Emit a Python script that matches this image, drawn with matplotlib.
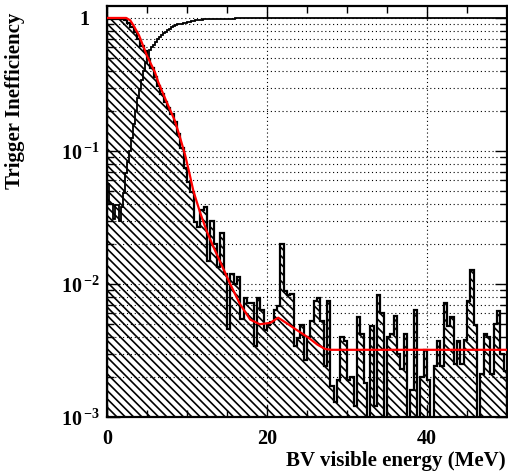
import matplotlib
matplotlib.use("Agg")
import matplotlib.pyplot as plt
import numpy as np
from matplotlib.ticker import FuncFormatter, LogLocator, MultipleLocator

# trigger inefficiency histogram, 120 bins over 0-50 MeV
ineff_range = (0.0, 50.0)
ineff = [
    0.978, 0.978, 0.978, 0.978, 0.978, 0.96, 0.92, 0.86, 0.78, 0.70,
    0.62, 0.56, 0.49, 0.42, 0.36, 0.31, 0.27, 0.235, 0.21, 0.19,
    0.165, 0.135, 0.105, 0.075, 0.058, 0.049, 0.029, 0.027, 0.036, 0.038,
    0.015, 0.030, 0.020, 0.0135, 0.0243, 0.0118, 0.0046, 0.0118, 0.0100, 0.0112,
    0.0055, 0.0079, 0.0072, 0.0072, 0.0034, 0.0079, 0.0064, 0.0045, 0.0049, 0.0052,
    0.0064, 0.0068, 0.020, 0.0088, 0.0082, 0.0084, 0.0034, 0.0039, 0.0049, 0.0027,
    0.0040, 0.0053, 0.0074, 0.0079, 0.0053, 0.0024, 0.0074, 0.0017, 0.0013, 0.0019,
    0.0040, 0.0037, 0.0019, 0.0020, 0.0012, 0.0056, 0.0042, 0.0018, 0.0, 0.0048,
    0.0012, 0.0082, 0.0061, 0.0, 0.0040, 0.0042, 0.0057, 0.0030, 0.0023, 0.0042,
    0.0, 0.0016, 0.0064, 0.0, 0.0020, 0.0032, 0.0019, 0.0, 0.0024, 0.0037,
    0.0024, 0.0072, 0.0048, 0.0056, 0.0025, 0.0037, 0.0025, 0.0038, 0.0074, 0.0128,
    0.0049, 0.0, 0.0021, 0.0042, 0.0040, 0.0021, 0.0050, 0.0063, 0.0030, 0.0022,
]

# efficiency curve (step line)
eff_fine_width = 0.25
eff_coarse_edges = [10, 10.5, 11, 11.5, 12, 13, 14, 15, 16, 50]
eff = [
    0.056, 0.040, 0.040, 0.031, 0.039, 0.039, 0.030, 0.038, 0.048, 0.068,
    0.082, 0.10, 0.125, 0.16, 0.20, 0.25, 0.29, 0.34, 0.40, 0.46,
    0.51, 0.57, 0.61, 0.63, 0.66, 0.70, 0.72, 0.75, 0.77, 0.79,
    0.81, 0.83, 0.86, 0.87, 0.885, 0.895, 0.90, 0.905, 0.91, 0.92,
    0.935, 0.955, 0.965, 0.97, 0.975, 0.98, 0.985, 0.99, 0.995,
]

# fitted curve
fit_x = [0, 2.4, 2.9, 3.3, 4.0, 4.5, 5.0, 5.5, 6.0, 6.4, 7.5, 8.5, 9.1, 9.75,
         10.3, 10.8, 11.6, 12.46, 13.3, 14.1, 15.4, 16.6, 17.9, 19.1, 20.4,
         21.4, 22.4, 23.5, 25.2, 26.3, 27.25, 28, 50]
fit_y = [1.0, 1.0, 0.96, 0.88, 0.74, 0.62, 0.52, 0.45, 0.39, 0.33, 0.23, 0.168,
         0.128, 0.094, 0.068, 0.05, 0.035, 0.025, 0.019, 0.0149, 0.010, 0.0071,
         0.0054, 0.00498, 0.0051, 0.00558, 0.0051, 0.0046, 0.00394, 0.0035,
         0.00325, 0.0032, 0.0032]

plt.rcParams["font.family"] = ["Liberation Serif", "DejaVu Serif"]
plt.rcParams["font.weight"] = "bold"
plt.rcParams["mathtext.fontset"] = "custom"
plt.rcParams["mathtext.rm"] = "Liberation Serif:bold"
plt.rcParams["mathtext.bf"] = "Liberation Serif:bold"
plt.rcParams["hatch.linewidth"] = 1.2
plt.rcParams["axes.linewidth"] = 1.6

fig = plt.figure(figsize=(5.08, 4.76), dpi=100)
ax = fig.add_axes([107 / 508, 59 / 476, 400 / 508, 411 / 476])

edges = np.linspace(ineff_range[0], ineff_range[1], len(ineff) + 1)
vals = np.asarray(ineff)
vals = np.where(vals > 0, vals, 1e-7)

# hatched fill + outline
ax.stairs(vals, edges, baseline=1e-7, fill=True, facecolor="none",
          edgecolor="black", hatch="\\\\\\\\", linewidth=0, zorder=2)
ax.stairs(vals, edges, baseline=1e-7, color="black", linewidth=1.6, zorder=3)

eff_edges = np.concatenate([np.arange(0, 10, eff_fine_width), eff_coarse_edges])
ax.stairs(eff, eff_edges, baseline=None, color="black", linewidth=1.3, zorder=4)

ax.plot(fit_x, fit_y, color="red", linewidth=1.6, zorder=5)

ax.set_yscale("log")
ax.set_xlim(0, 50)
ax.set_ylim(1e-3, 1.23)

ax.xaxis.set_major_locator(MultipleLocator(20))
ax.xaxis.set_minor_locator(MultipleLocator(5))
ax.yaxis.set_major_locator(LogLocator(base=10))
ax.yaxis.set_minor_locator(LogLocator(base=10, subs=np.arange(2, 10)))


def log_label(v, pos):
    e = int(round(np.log10(v)))
    if e == 0:
        return "1  "
    return r"$\mathbf{10}^{\,\mathbf{%d}}$" % e


ax.yaxis.set_major_formatter(FuncFormatter(log_label))
ax.yaxis.set_minor_formatter(FuncFormatter(lambda v, p: ""))

ax.tick_params(which="both", direction="in", top=True, right=True, width=1)
ax.tick_params(which="major", length=9)
ax.tick_params(which="minor", length=5)
ax.tick_params(axis="x", labelsize=14.5, pad=9)
ax.tick_params(axis="y", labelsize=14.5, pad=5)

ax.grid(True, which="major", axis="x", color="black", linestyle=(0, (1, 2.5)), linewidth=0.8)
ax.grid(True, which="both", axis="y", color="black", linestyle=(0, (1, 2.5)), linewidth=0.8)
ax.set_axisbelow(True)

ax.set_xlabel("BV visible energy (MeV)", fontsize=15, fontweight="bold", loc="right")
ax.xaxis.set_label_coords(0.997, -0.083)
ax.set_ylabel("Trigger Inefficiency", fontsize=15, fontweight="bold", loc="top")
ax.yaxis.set_label_coords(-0.205, 0.985)

fig.savefig("out.png", dpi=100)
